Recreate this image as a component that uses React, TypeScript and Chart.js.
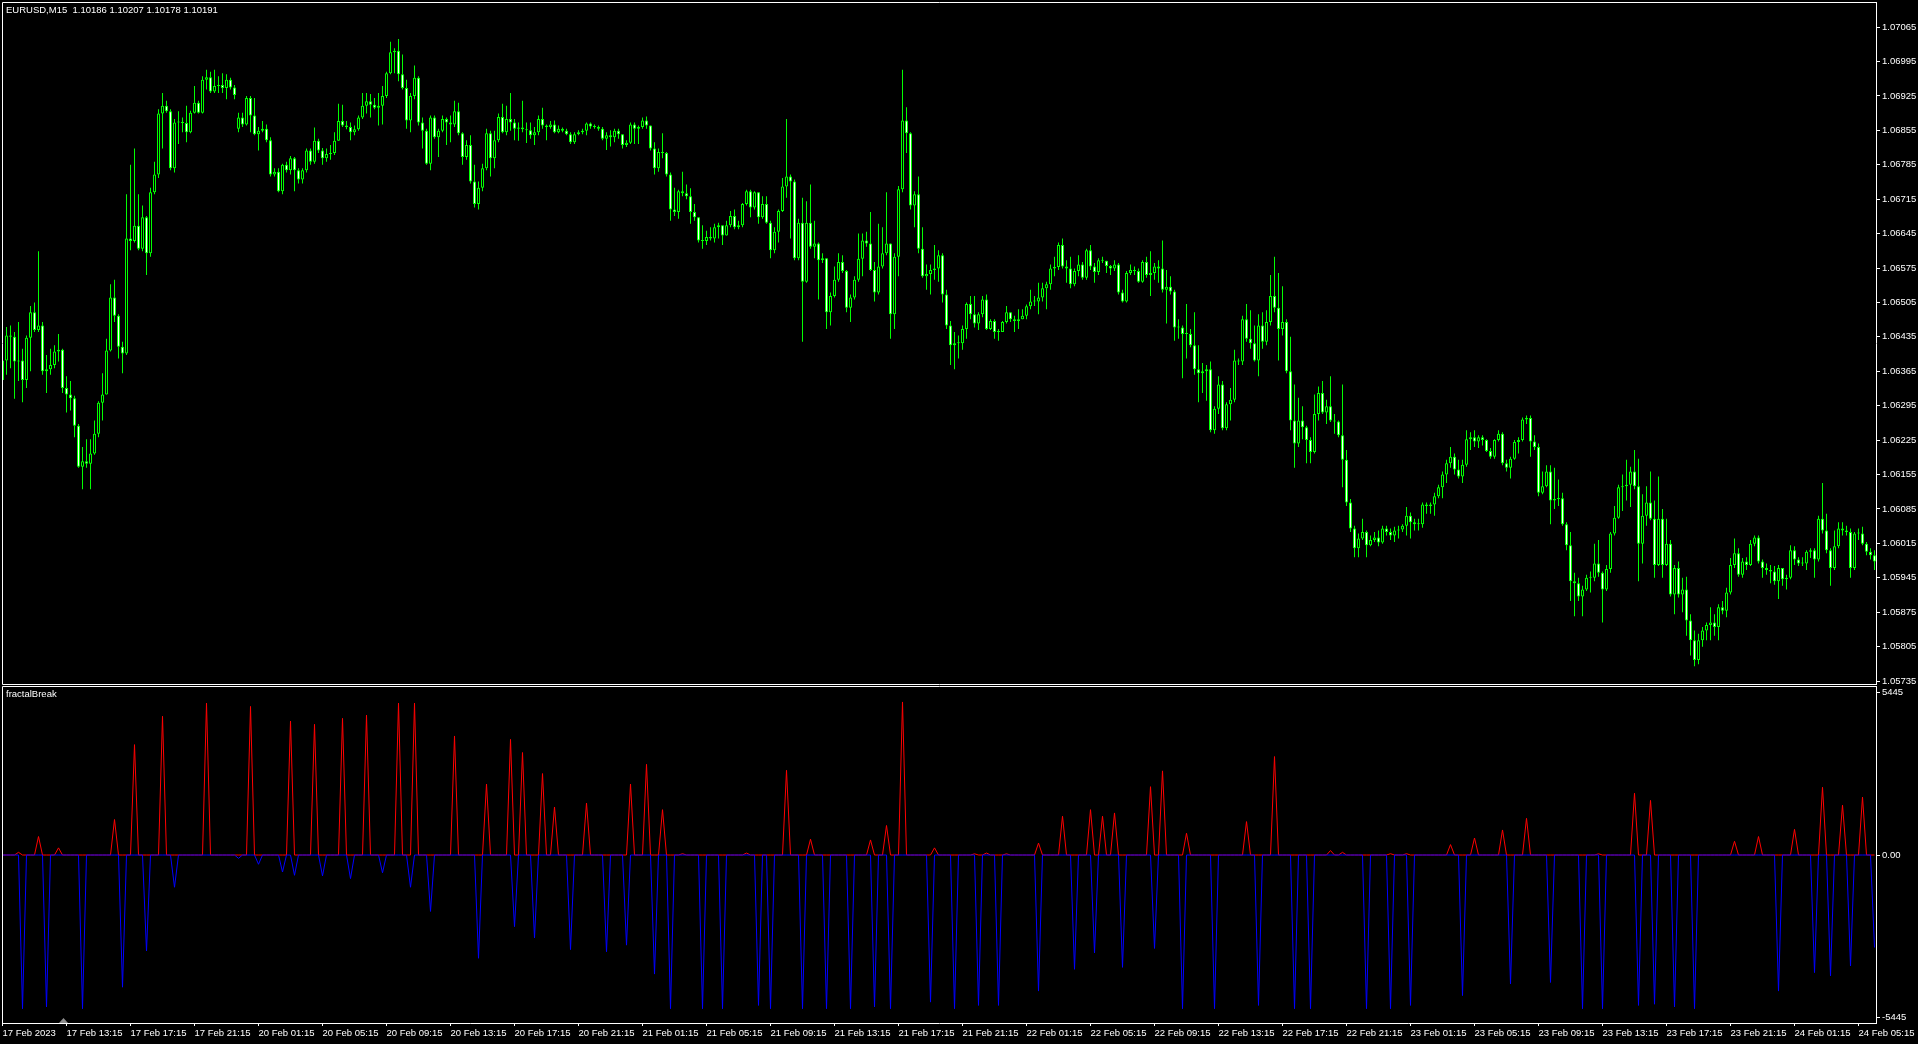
import { useEffect, useRef } from "react";
import { Chart, registerables } from "chart.js";
Chart.register(...registerables);

// ---- data (prices in points: 1 point = 0.00001) ----
const closePts = [
  106387, 106438, 106435, 106385, 106387, 106347, 106433, 106485, 106449, 106458,
  106365, 106369, 106378, 106405, 106409, 106331, 106318, 106310, 106254, 106171,
  106182, 106177, 106198, 106238, 106301, 106318, 106407, 106515, 106478, 106415,
  106401, 106635, 106630, 106661, 106614, 106678, 106605, 106729, 106765, 106889,
  106905, 106894, 106778, 106871, 106871, 106870, 106851, 106891, 106911, 106891,
  106958, 106963, 106934, 106945, 106947, 106941, 106958, 106942, 106927, 106881,
  106867, 106921, 106885, 106847, 106854, 106858, 106835, 106765, 106771, 106731,
  106785, 106774, 106798, 106774, 106755, 106774, 106814, 106791, 106834, 106814,
  106798, 106807, 106809, 106834, 106874, 106865, 106862, 106851, 106857, 106881,
  106905, 106914, 106907, 106901, 106905, 106925, 106971, 107014, 107017, 106969,
  106941, 106875, 106925, 106962, 106871, 106854, 106787, 106881, 106841, 106854,
  106878, 106871, 106867, 106894, 106849, 106801, 106825, 106751, 106705, 106738,
  106778, 106849, 106798, 106835, 106882, 106851, 106878, 106871, 106858, 106861,
  106857, 106855, 106845, 106851, 106878, 106865, 106862, 106867, 106851, 106858,
  106854, 106847, 106831, 106847, 106851, 106854, 106869, 106863, 106862, 106858,
  106838, 106845, 106841, 106854, 106847, 106825, 106830, 106867, 106858, 106862,
  106875, 106865, 106818, 106778, 106811, 106809, 106765, 106694, 106689, 106731,
  106727, 106721, 106689, 106678, 106631, 106630, 106638, 106635, 106658, 106662,
  106641, 106662, 106681, 106658, 106662, 106705, 106731, 106698, 106729, 106678,
  106705, 106667, 106611, 106649, 106691, 106741, 106761, 106751, 106595, 106667,
  106547, 106667, 106618, 106625, 106591, 106595, 106485, 106518, 106551, 106587,
  106569, 106494, 106515, 106551, 106594, 106631, 106625, 106571, 106525, 106578,
  106605, 106625, 106481, 106598, 106735, 106875, 106849, 106702, 106725, 106614,
  106558, 106563, 106571, 106574, 106601, 106521, 106458, 106418, 106422, 106422,
  106451, 106502, 106481, 106462, 106481, 106511, 106451, 106467, 106445, 106445,
  106465, 106485, 106471, 106467, 106471, 106478, 106497, 106507, 106507, 106515,
  106534, 106542, 106574, 106577, 106622, 106578, 106574, 106542, 106569, 106582,
  106555, 106611, 106578, 106567, 106591, 106590, 106579, 106574, 106582, 106525,
  106507, 106565, 106571, 106569, 106547, 106587, 106561, 106565, 106578, 106574,
  106531, 106537, 106527, 106454, 106454, 106441, 106441, 106418, 106369, 106361,
  106365, 106369, 106245, 106289, 106338, 106249, 106298, 106307, 106387, 106385,
  106471, 106431, 106422, 106387, 106458, 106425, 106465, 106518, 106494, 106451,
  106465, 106365, 106265, 106218, 106265, 106251, 106225, 106201, 106278, 106321,
  106281, 106294, 106265, 106263, 106235, 106185, 106098, 106045, 106005, 106025,
  106038, 106011, 106022, 106027, 106017, 106045, 106038, 106031, 106041, 106043,
  106051, 106071, 106058, 106054, 106054, 106094, 106091, 106094, 106111, 106129,
  106155, 106178, 106191, 106165, 106151, 106175, 106227, 106231, 106222, 106231,
  106225, 106203, 106191, 106225, 106238, 106178, 106169, 106187, 106221, 106225,
  106267, 106270, 106222, 106211, 106118, 106131, 106161, 106102, 106105, 106107,
  106054, 106011, 105938, 105934, 105907, 105921, 105945, 105945, 105974, 105955,
  105921, 105963, 106035, 106067, 106129, 106131, 106134, 106161, 106131, 106014,
  106071, 106098, 106065, 105971, 106065, 105971, 106014, 105911, 105965, 105911,
  105921, 105858, 105818, 105778, 105818, 105838, 105849, 105854, 105845, 105885,
  105878, 105915, 105971, 105995, 105951, 105978, 105971, 106014, 106027, 105978,
  105965, 105961, 105958, 105938, 105965, 105942, 105945, 106001, 105982, 105974,
  105974, 105998, 106001, 105982, 106065, 106041, 106001, 105965, 106009, 106045,
  106041, 106038, 105965, 106035, 106035, 106014, 105998, 105991, 105978,
];

const highPts = [
  106398, 106455, 106458, 106445, 106465, 106411, 106438, 106498, 106505, 106609,
  106465, 106398, 106411, 106418, 106441, 106411, 106355, 106345, 106315, 106258,
  106211, 106227, 106227, 106265, 106304, 106361, 106431, 106542, 106551, 106481,
  106425, 106725, 106785, 106818, 106725, 106702, 106681, 106738, 106791, 106898,
  106931, 106915, 106898, 106878, 106894, 106881, 106905, 106895, 106945, 106915,
  106965, 106978, 106974, 106978, 106965, 106971, 106969, 106962, 106947, 106891,
  106891, 106925, 106925, 106921, 106862, 106874, 106867, 106841, 106778, 106778,
  106787, 106791, 106803, 106801, 106778, 106778, 106818, 106818, 106861, 106838,
  106819, 106818, 106825, 106851, 106909, 106907, 106874, 106871, 106865, 106885,
  106931, 106931, 106929, 106921, 106931, 106945, 106974, 107035, 107022, 107041,
  107009, 106958, 106931, 106987, 106965, 106881, 106858, 106885, 106885, 106858,
  106885, 106881, 106885, 106915, 106911, 106851, 106835, 106845, 106785, 106751,
  106787, 106858, 106854, 106854, 106889, 106909, 106905, 106931, 106878, 106871,
  106915, 106871, 106871, 106862, 106885, 106901, 106867, 106874, 106875, 106865,
  106861, 106858, 106851, 106851, 106855, 106858, 106871, 106871, 106867, 106865,
  106862, 106851, 106855, 106858, 106858, 106845, 106835, 106871, 106871, 106865,
  106881, 106883, 106865, 106831, 106818, 106849, 106811, 106769, 106738, 106734,
  106771, 106745, 106737, 106705, 106678, 106662, 106651, 106658, 106665, 106667,
  106651, 106671, 106691, 106694, 106671, 106707, 106734, 106734, 106731, 106727,
  106721, 106721, 106671, 106658, 106694, 106758, 106878, 106765, 106755, 106675,
  106718, 106711, 106745, 106671, 106627, 106605, 106595, 106525, 106578, 106605,
  106601, 106571, 106521, 106558, 106645, 106645, 106649, 106689, 106587, 106665,
  106658, 106729, 106618, 106605, 106742, 106978, 106902, 106851, 106731, 106761,
  106658, 106582, 106582, 106622, 106611, 106605, 106531, 106467, 106445, 106438,
  106458, 106505, 106518, 106518, 106485, 106518, 106521, 106471, 106471, 106451,
  106467, 106498, 106485, 106478, 106491, 106491, 106501, 106531, 106518, 106545,
  106545, 106547, 106582, 106598, 106627, 106635, 106591, 106598, 106574, 106601,
  106587, 106614, 106622, 106585, 106595, 106598, 106587, 106581, 106591, 106585,
  106531, 106569, 106582, 106578, 106574, 106591, 106598, 106609, 106585, 106591,
  106631, 106571, 106558, 106531, 106471, 106458, 106502, 106451, 106485, 106418,
  106382, 106378, 106385, 106294, 106355, 106345, 106302, 106331, 106409, 106391,
  106478, 106502, 106489, 106458, 106481, 106485, 106489, 106561, 106598, 106565,
  106538, 106471, 106435, 106338, 106311, 106294, 106254, 106231, 106318, 106334,
  106345, 106307, 106355, 106278, 106265, 106338, 106205, 106105, 106051, 106035,
  106065, 106041, 106031, 106038, 106041, 106051, 106051, 106045, 106049, 106051,
  106054, 106089, 106078, 106065, 106065, 106098, 106098, 106098, 106118, 106134,
  106161, 106185, 106211, 106198, 106185, 106185, 106245, 106241, 106245, 106235,
  106235, 106227, 106209, 106227, 106245, 106241, 106185, 106191, 106225, 106231,
  106271, 106275, 106275, 106235, 106218, 106161, 106174, 106174, 106169, 106145,
  106118, 106058, 106038, 105955, 105945, 105929, 105951, 105958, 106014, 106022,
  105958, 105971, 106038, 106091, 106134, 106155, 106185, 106171, 106205, 106187,
  106115, 106131, 106161, 106102, 106151, 106085, 106065, 106022, 105971, 105978,
  105945, 105947, 105871, 105838, 105831, 105845, 105854, 105885, 105871, 105891,
  105898, 105925, 105985, 106025, 106005, 105985, 105987, 106022, 106031, 106031,
  105982, 105974, 105971, 105969, 105971, 105951, 105951, 106011, 106009, 105987,
  105987, 106001, 106005, 106005, 106071, 106138, 106075, 106005, 106041, 106058,
  106058, 106051, 106045, 106038, 106045, 106049, 106018, 106005, 106001,
];

const lowPts = [
  106311, 106358, 106371, 106309, 106345, 106302, 106331, 106365, 106445, 106445,
  106358, 106321, 106358, 106371, 106385, 106321, 106281, 106285, 106231, 106169,
  106125, 106169, 106125, 106195, 106231, 106265, 106318, 106405, 106465, 106391,
  106361, 106398, 106611, 106627, 106611, 106609, 106561, 106598, 106725, 106758,
  106818, 106891, 106774, 106769, 106827, 106851, 106831, 106849, 106889, 106889,
  106889, 106938, 106931, 106931, 106931, 106931, 106918, 106938, 106918, 106851,
  106862, 106865, 106851, 106845, 106814, 106851, 106831, 106761, 106761, 106729,
  106725, 106769, 106765, 106731, 106747, 106747, 106769, 106785, 106787, 106809,
  106785, 106791, 106795, 106805, 106835, 106862, 106857, 106835, 106845, 106854,
  106878, 106889, 106881, 106898, 106865, 106867, 106921, 106969, 106971, 106955,
  106938, 106858, 106851, 106918, 106865, 106818, 106785, 106774, 106838, 106801,
  106851, 106825, 106831, 106862, 106845, 106785, 106795, 106747, 106698, 106694,
  106731, 106774, 106761, 106778, 106831, 106849, 106845, 106854, 106835, 106834,
  106851, 106829, 106838, 106825, 106845, 106858, 106835, 106858, 106849, 106849,
  106851, 106845, 106827, 106827, 106845, 106847, 106845, 106858, 106858, 106854,
  106835, 106815, 106822, 106831, 106838, 106818, 106821, 106827, 106827, 106827,
  106858, 106858, 106814, 106765, 106771, 106798, 106761, 106671, 106681, 106675,
  106721, 106715, 106665, 106671, 106627, 106614, 106622, 106631, 106627, 106635,
  106622, 106641, 106658, 106654, 106654, 106658, 106702, 106678, 106694, 106665,
  106675, 106665, 106595, 106605, 106627, 106689, 106718, 106635, 106591, 106591,
  106425, 106545, 106614, 106595, 106511, 106585, 106451, 106458, 106515, 106547,
  106565, 106485, 106465, 106511, 106547, 106558, 106618, 106569, 106507, 106521,
  106574, 106601, 106431, 106451, 106558, 106729, 106809, 106694, 106658, 106605,
  106555, 106531, 106521, 106551, 106547, 106505, 106451, 106378, 106369, 106391,
  106409, 106431, 106471, 106454, 106449, 106475, 106449, 106449, 106431, 106427,
  106445, 106462, 106465, 106445, 106451, 106471, 106471, 106491, 106498, 106481,
  106507, 106491, 106531, 106558, 106571, 106574, 106545, 106534, 106538, 106558,
  106551, 106551, 106571, 106545, 106561, 106585, 106565, 106561, 106569, 106521,
  106505, 106505, 106561, 106561, 106545, 106545, 106555, 106518, 106551, 106545,
  106525, 106462, 106521, 106427, 106431, 106351, 106391, 106414, 106358, 106302,
  106321, 106305, 106241, 106238, 106278, 106245, 106245, 106265, 106302, 106378,
  106378, 106425, 106411, 106385, 106355, 106411, 106418, 106458, 106485, 106387,
  106438, 106361, 106245, 106169, 106211, 106227, 106178, 106178, 106198, 106265,
  106278, 106258, 106262, 106238, 106231, 106129, 106091, 106038, 105987, 105987,
  106022, 105987, 106009, 106018, 106009, 106014, 106031, 106022, 106018, 106025,
  106038, 106031, 106025, 106041, 106041, 106047, 106075, 106075, 106071, 106107,
  106107, 106138, 106169, 106155, 106147, 106138, 106171, 106205, 106211, 106209,
  106214, 106201, 106187, 106187, 106222, 106174, 106161, 106147, 106185, 106198,
  106222, 106258, 106191, 106205, 106111, 106115, 106129, 106054, 106085, 106091,
  106051, 106001, 105898, 105867, 105898, 105867, 105918, 105915, 105938, 105947,
  105854, 105918, 105955, 106031, 106065, 106081, 106102, 106089, 106125, 105938,
  105974, 106051, 106062, 105945, 105969, 105945, 105969, 105907, 105871, 105905,
  105875, 105827, 105787, 105765, 105769, 105805, 105818, 105818, 105827, 105818,
  105871, 105865, 105911, 105965, 105947, 105945, 105961, 105969, 106009, 105974,
  105945, 105951, 105934, 105931, 105902, 105929, 105921, 105942, 105971, 105969,
  105969, 105961, 105985, 105945, 105978, 106035, 105995, 105929, 105961, 106005,
  106031, 106031, 105945, 105961, 106022, 106011, 105991, 105982, 105961,
];

// opens follow the previous close, except where the chart shows a gap
const openOverrides: [number, number][] = [
  [0, 106347],
  [59, 106858],
];

// fractalBreak indicator: [bar index, value]; all other bars are 0
const redSpikes: [number, number][] = [
  [4, 90], [9, 620], [14, 240], [28, 1190], [33, 3700], [40, 4650], [51, 5090], [62, 4980],
  [72, 4490], [78, 4380], [85, 4580], [91, 4690], [99, 5090], [103, 5090], [113, 3990],
  [121, 2380], [127, 3875], [130, 3435], [135, 2730], [138, 1610], [146, 1740], [157, 2380],
  [161, 3040], [165, 1520], [170, 44], [186, 66], [196, 2840], [202, 530], [217, 506],
  [221, 990], [225, 5130], [233, 240], [243, 40], [246, 66], [251, 40], [259, 400],
  [265, 1300], [272, 1520], [275, 1300], [278, 1410], [287, 2290], [290, 2820], [296, 730],
  [311, 1120], [318, 3300], [332, 150], [335, 90], [347, 44], [351, 44], [362, 350],
  [368, 570], [375, 840], [381, 1230], [399, 40], [408, 2070], [412, 1830], [433, 460],
  [439, 620], [448, 860], [455, 2270], [460, 1670], [465, 1940],
];
const blueSpikes: [number, number][] = [
  [5, -5150], [11, -5090], [20, -5150], [30, -4430], [36, -3215], [43, -1080], [59, -110],
  [64, -310], [70, -570], [73, -680], [80, -700], [87, -790], [95, -595], [102, -1080],
  [107, -1890], [119, -3460], [128, -2400], [133, -2775], [142, -3170], [151, -3240],
  [156, -3020], [163, -3990], [167, -5150], [175, -5150], [180, -5150], [189, -5040],
  [192, -5150], [200, -5150], [206, -5150], [212, -5150], [218, -5090], [222, -5150],
  [232, -4930], [238, -5150], [244, -5040], [249, -5040], [259, -4560], [268, -3830],
  [273, -3280], [280, -3765], [288, -3130], [295, -5150], [303, -5150], [314, -5040],
  [323, -5150], [327, -5150], [341, -5150], [347, -5150], [352, -5040], [365, -4710],
  [377, -4320], [387, -4270], [395, -5150], [400, -5150], [409, -5040], [413, -5000],
  [418, -5090], [423, -5150], [444, -4560], [453, -3940], [457, -4050], [462, -3720],
  [468, -3100],
];

const priceTicks = [
  1.07065, 1.06995, 1.06925, 1.06855, 1.06785, 1.06715, 1.06645, 1.06575, 1.06505, 1.06435,
  1.06365, 1.06295, 1.06225, 1.06155, 1.06085, 1.06015, 1.05945, 1.05875, 1.05805, 1.05735,
];
const indicatorTicks = [5445, 0, -5445];
const xTickIndex = [
  0, 16, 32, 48, 64, 80, 96, 112, 128, 144, 160, 176, 192, 208, 224,
  240, 256, 272, 288, 304, 320, 336, 352, 368, 384, 400, 416, 432, 448, 464,
];
const xTickLabels = [
  "17 Feb 2023", "17 Feb 13:15", "17 Feb 17:15", "17 Feb 21:15", "20 Feb 01:15",
  "20 Feb 05:15", "20 Feb 09:15", "20 Feb 13:15", "20 Feb 17:15", "20 Feb 21:15",
  "21 Feb 01:15", "21 Feb 05:15", "21 Feb 09:15", "21 Feb 13:15", "21 Feb 17:15",
  "21 Feb 21:15", "22 Feb 01:15", "22 Feb 05:15", "22 Feb 09:15", "22 Feb 13:15",
  "22 Feb 17:15", "22 Feb 21:15", "23 Feb 01:15", "23 Feb 05:15", "23 Feb 09:15",
  "23 Feb 13:15", "23 Feb 17:15", "23 Feb 21:15", "24 Feb 01:15", "24 Feb 05:15",
];

const TITLE = "EURUSD,M15  1.10186 1.10207 1.10178 1.10191";
const IND_NAME = "fractalBreak";

// ---- styling ----
const FONT = "'Liberation Sans', Arial, sans-serif";
const FONT_SIZE = 9.5;
const W = 1918;
const H1 = 685;
const H2 = 359;
const AXIS_W = 42;
const X_MIN = -0.125;
const X_MAX = 468.375;

const toPrice = (p: number) => p / 100000;

const framePlugin = (drawBottom: boolean) => ({
  id: "frame",
  afterDraw(chart: any) {
    const { ctx, chartArea: a } = chart;
    ctx.save();
    ctx.strokeStyle = "#ffffff";
    ctx.lineWidth = 1;
    ctx.beginPath();
    ctx.moveTo(a.left + 0.5, a.bottom + 0.5);
    ctx.lineTo(a.left + 0.5, a.top + 0.5);
    ctx.lineTo(a.right + 0.5, a.top + 0.5);
    if (drawBottom) {
      ctx.moveTo(a.left + 0.5, a.bottom + 0.5);
      ctx.lineTo(a.right + 0.5, a.bottom + 0.5);
    }
    ctx.stroke();
    ctx.restore();
  },
});

const shiftMarker = {
  id: "shiftMarker",
  afterDraw(chart: any) {
    const { ctx, chartArea: a, scales } = chart;
    const x = Math.round(scales.x.getPixelForValue(15)) + 0.5;
    ctx.save();
    ctx.fillStyle = "#8c8c8c";
    ctx.beginPath();
    ctx.moveTo(x - 4.5, a.bottom);
    ctx.lineTo(x + 4.5, a.bottom);
    ctx.lineTo(x, a.bottom - 5);
    ctx.closePath();
    ctx.fill();
    ctx.restore();
  },
};

function buildCandles() {
  const opens = closePts.map((_, i) => (i === 0 ? closePts[0] : closePts[i - 1]));
  openOverrides.forEach(([i, v]) => (opens[i] = v));
  const wicks = closePts.map((c, i) => ({
    x: i,
    y: [
      toPrice(Math.min(lowPts[i], opens[i], c)),
      toPrice(Math.max(highPts[i], opens[i], c)),
    ],
  }));
  const bodies = closePts.map((c, i) => ({ x: i, y: [toPrice(opens[i]), toPrice(c)] }));
  const fills = closePts.map((c, i) => (c < opens[i] ? "#ffffff" : "#000000"));
  return { wicks, bodies, fills };
}

function buildIndicator(spikes: [number, number][]) {
  const vals = closePts.map(() => 0);
  spikes.forEach(([i, v]) => (vals[i] = v));
  return vals.map((v, i) => ({ x: i, y: v }));
}

const tickFont = { family: FONT, size: FONT_SIZE };

const fixYAxis = (s: any) => {
  s.width = AXIS_W;
  s.paddingTop = 0;
  s.paddingBottom = 0;
};

export default function App() {
  const mainRef = useRef<HTMLCanvasElement>(null);
  const indRef = useRef<HTMLCanvasElement>(null);

  useEffect(() => {
    const { wicks, bodies, fills } = buildCandles();
    const main = new Chart(mainRef.current as HTMLCanvasElement, {
      type: "bar",
      data: {
        datasets: [
          {
            data: wicks as any,
            backgroundColor: "#00ff00",
            barThickness: 1,
            grouped: false,
            inflateAmount: 0,
            order: 2,
          } as any,
          {
            data: bodies as any,
            backgroundColor: fills,
            borderColor: "#00ff00",
            borderWidth: 1,
            borderSkipped: false,
            barThickness: 3,
            minBarLength: 1,
            grouped: false,
            inflateAmount: 0,
            order: 1,
          } as any,
        ],
      },
      options: {
        animation: false,
        responsive: false,
        devicePixelRatio: 1,
        layout: { padding: { left: 2, top: 2, bottom: 1, right: 0 } },
        plugins: { legend: { display: false }, tooltip: { enabled: false } },
        scales: {
          x: { type: "linear", min: X_MIN, max: X_MAX, offset: false, display: false, grid: { offset: false } },
          y: {
            position: "right",
            min: 1.05729,
            max: 1.07116,
            afterBuildTicks: (s: any) => {
              s.ticks = priceTicks.map((v) => ({ value: v }));
            },
            afterFit: fixYAxis,
            ticks: {
              color: "#ffffff",
              font: tickFont,
              padding: 2,
              autoSkip: false,
              callback: (v: any) => Number(v).toFixed(5),
            },
            grid: { drawOnChartArea: false, drawTicks: true, tickLength: 4, color: "#ffffff", tickColor: "#ffffff" },
            border: { display: true, color: "#ffffff", width: 1 },
          },
        },
      } as any,
      plugins: [framePlugin(true)],
    });

    const ind = new Chart(indRef.current as HTMLCanvasElement, {
      type: "line",
      data: {
        datasets: [
          {
            data: buildIndicator(redSpikes) as any,
            borderColor: "#ff0000",
            borderWidth: 1,
            pointRadius: 0,
            tension: 0,
            fill: false,
            order: 2,
          },
          {
            data: buildIndicator(blueSpikes) as any,
            borderColor: "#0000ff",
            borderWidth: 1,
            pointRadius: 0,
            tension: 0,
            fill: false,
            order: 1,
          },
        ],
      },
      options: {
        animation: false,
        responsive: false,
        devicePixelRatio: 1,
        layout: { padding: { left: 2, top: 1, bottom: 0, right: 0 } },
        plugins: { legend: { display: false }, tooltip: { enabled: false } },
        scales: {
          x: {
            type: "linear",
            min: X_MIN,
            max: X_MAX,
            offset: false,
            afterBuildTicks: (s: any) => {
              s.ticks = xTickIndex.map((v) => ({ value: v }));
            },
            afterFit: (s: any) => {
              s.height = 21;
              s.paddingLeft = 0;
              s.paddingRight = 0;
            },
            ticks: {
              color: "#ffffff",
              font: tickFont,
              align: "start",
              padding: 2,
              autoSkip: false,
              maxRotation: 0,
              minRotation: 0,
              callback: (_v: any, idx: number) => xTickLabels[idx],
            },
            grid: { drawOnChartArea: false, drawTicks: true, tickLength: 3, color: "#ffffff", tickColor: "#ffffff", offset: false },
            border: { display: true, color: "#ffffff", width: 1 },
          },
          y: {
            position: "right",
            min: -5630,
            max: 5665,
            afterBuildTicks: (s: any) => {
              s.ticks = indicatorTicks.map((v) => ({ value: v }));
            },
            afterFit: fixYAxis,
            ticks: {
              color: "#ffffff",
              font: tickFont,
              padding: 2,
              autoSkip: false,
              callback: (v: any) => (Number(v) === 0 ? "0.00" : String(v)),
            },
            grid: { drawOnChartArea: false, drawTicks: true, tickLength: 4, color: "#ffffff", tickColor: "#ffffff" },
            border: { display: true, color: "#ffffff", width: 1 },
          },
        },
      } as any,
      plugins: [framePlugin(false), shiftMarker],
    });

    return () => {
      main.destroy();
      ind.destroy();
    };
  }, []);

  const label: any = {
    position: "absolute",
    left: 6,
    color: "#ffffff",
    fontFamily: FONT,
    fontSize: FONT_SIZE,
    lineHeight: "12px",
    whiteSpace: "pre",
  };

  return (
    <div
      style={{
        position: "fixed",
        left: 0,
        top: 0,
        width: W,
        height: H1 + H2,
        background: "#000000",
        overflow: "hidden",
      }}
    >
      <canvas
        ref={mainRef}
        width={W}
        height={H1}
        style={{ position: "absolute", left: 0, top: 0, width: W, height: H1, display: "block" }}
      />
      <canvas
        ref={indRef}
        width={W}
        height={H2}
        style={{ position: "absolute", left: 0, top: H1, width: W, height: H2, display: "block" }}
      />
      <div style={{ ...label, top: 4 }}>{TITLE}</div>
      <div style={{ ...label, top: 688 }}>{IND_NAME}</div>
    </div>
  );
}
